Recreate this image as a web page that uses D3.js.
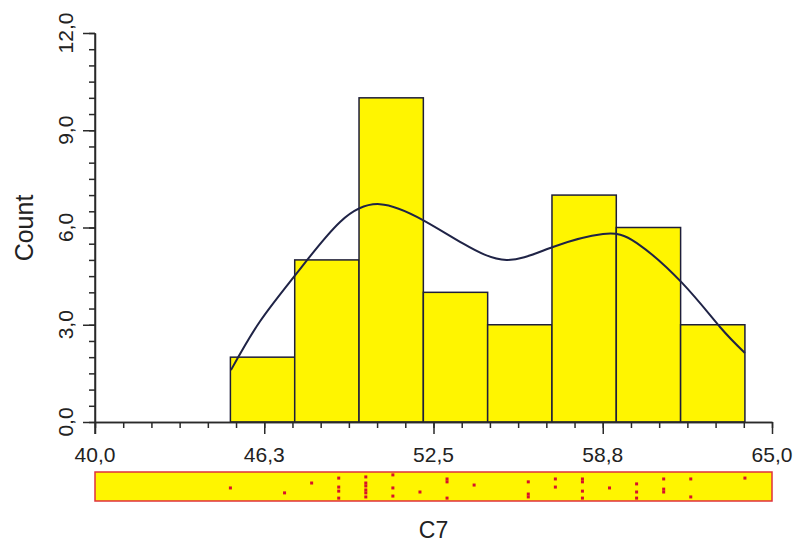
<!DOCTYPE html>
<html><head><meta charset="utf-8">
<script src="https://cdn.jsdelivr.net/npm/d3@7"></script>
<style>
html,body{margin:0;padding:0;background:#fff;}
svg{display:block;font-family:"Liberation Sans",Arial,Helvetica,sans-serif;}
</style></head>
<body><svg id="chart" width="798" height="544"></svg>
<script>
// ---- data ----
const binEdges = [45, 47.375, 49.75, 52.125, 54.5, 56.875, 59.25, 61.625, 64];
const counts = [2, 5, 10, 4, 3, 7, 6, 3];
const curveX = [45.02, 46.09, 47.46, 49.05, 50.52, 52.11, 53.6, 55.2, 56.91, 58.76, 60.01, 61.68, 63.08, 64.00];
const curveY = [1.60, 3.10, 4.60, 6.17, 6.72, 6.23, 5.50, 5.00, 5.40, 5.80, 5.52, 4.29, 2.93, 2.13];
const rugValues = [45,47,48,49,49,49,49,50,50,50,50,50,50,51,51,51,52,53,53,53,54,56,56,56,57,57,58,58,58,58,59,60,60,60,61,61,61,62,62,64];
const rugJitter = [0.55,0.72,0.38,0.21,0.52,0.66,0.90,0.17,0.38,0.48,0.62,0.72,0.86,0.10,0.55,0.83,0.69,0.24,0.34,0.90,0.45,0.34,0.76,0.86,0.24,0.52,0.24,0.34,0.66,0.90,0.55,0.41,0.69,0.90,0.24,0.59,0.69,0.24,0.86,0.21];
const xTickValues = [40, 46.25, 52.5, 58.75, 65];
const xTickLabels = ["40,0", "46,3", "52,5", "58,8", "65,0"];
const yTickValues = [0, 3, 6, 9, 12];
const yTickLabels = ["0,0", "3,0", "6,0", "9,0", "12,0"];
const xTitle = "C7";
const yTitle = "Count";

// ---- layout ----
const svg = d3.select("#chart");
const x = d3.scaleLinear().domain([40, 65]).range([95, 772]);
const y = d3.scaleLinear().domain([0, 12]).range([422, 33]);
const axisColor = "#2a2a2a";
const textColor = "#222";

// bars
const bins = counts.map((c, i) => ({x0: binEdges[i], x1: binEdges[i + 1], c}));
svg.append("g").selectAll("rect").data(bins).join("rect")
  .attr("x", d => x(d.x0)).attr("width", d => x(d.x1) - x(d.x0))
  .attr("y", d => y(d.c)).attr("height", d => y(0) - y(d.c))
  .attr("fill", "#fff500").attr("stroke", "#1e1e3a").attr("stroke-width", 1.5);

// density curve
const pts = curveX.map((v, i) => [v, curveY[i]]);
svg.append("path").datum(pts)
  .attr("d", d3.line().x(d => x(d[0])).y(d => y(d[1])).curve(d3.curveNatural))
  .attr("fill", "none").attr("stroke", "#1f2346").attr("stroke-width", 2);

// y axis
const yMinor = d3.range(0, 12.01, 0.5);
const gyMinor = svg.append("g").attr("transform", "translate(95,0)")
  .call(d3.axisLeft(y).tickValues(yMinor).tickSize(6).tickSizeOuter(0).tickFormat(""));
const gy = svg.append("g").attr("transform", "translate(95,0)")
  .call(d3.axisLeft(y).tickValues(yTickValues).tickSize(12).tickSizeOuter(0).tickFormat(""));
[gyMinor, gy].forEach(g => { g.selectAll("line,path").attr("stroke", axisColor).attr("stroke-width", 1.5); });
gy.select(".domain").attr("d", `M0,${y(12)}V${y(0) + 12}`);

svg.append("g").selectAll("text").data(yTickValues).join("text")
  .attr("transform", d => `translate(73,${y(d)}) rotate(-90)`)
  .attr("text-anchor", "middle").attr("font-size", 21).attr("fill", textColor)
  .text((d, i) => yTickLabels[i]);

// x axis
const xMinor = d3.range(25).map(i => 40 + i * 25 / 24);
const gxMinor = svg.append("g").attr("transform", `translate(0,${y(0)})`)
  .call(d3.axisBottom(x).tickValues(xMinor).tickSize(6).tickSizeOuter(0).tickFormat(""));
const gx = svg.append("g").attr("transform", `translate(0,${y(0)})`)
  .call(d3.axisBottom(x).tickValues(xTickValues).tickSize(12).tickSizeOuter(0).tickFormat(""));
[gxMinor, gx].forEach(g => { g.selectAll("line,path").attr("stroke", axisColor).attr("stroke-width", 1.5); });

svg.append("g").selectAll("text").data(xTickValues).join("text")
  .attr("x", d => x(d)).attr("y", 462)
  .attr("text-anchor", "middle").attr("font-size", 21).attr("fill", textColor)
  .text((d, i) => xTickLabels[i]);

// rug box
const rugTop = 472, rugH = 29;
svg.append("rect").attr("x", x(40)).attr("y", rugTop)
  .attr("width", x(65) - x(40)).attr("height", rugH)
  .attr("fill", "#fff500").attr("stroke", "#e0303c").attr("stroke-width", 1.5);
svg.append("g").selectAll("rect").data(rugValues).join("rect")
  .attr("x", d => x(d) - 1.5).attr("y", (d, i) => rugTop + rugJitter[i] * rugH - 1.5)
  .attr("width", 3).attr("height", 3).attr("fill", "#d8102c");

// titles
svg.append("text").attr("x", x(52.5)).attr("y", 538)
  .attr("text-anchor", "middle").attr("font-size", 23).attr("fill", textColor).text(xTitle);
svg.append("text").attr("transform", `translate(33,228) rotate(-90)`)
  .attr("text-anchor", "middle").attr("font-size", 25).attr("fill", textColor).text(yTitle);
</script></body></html>
